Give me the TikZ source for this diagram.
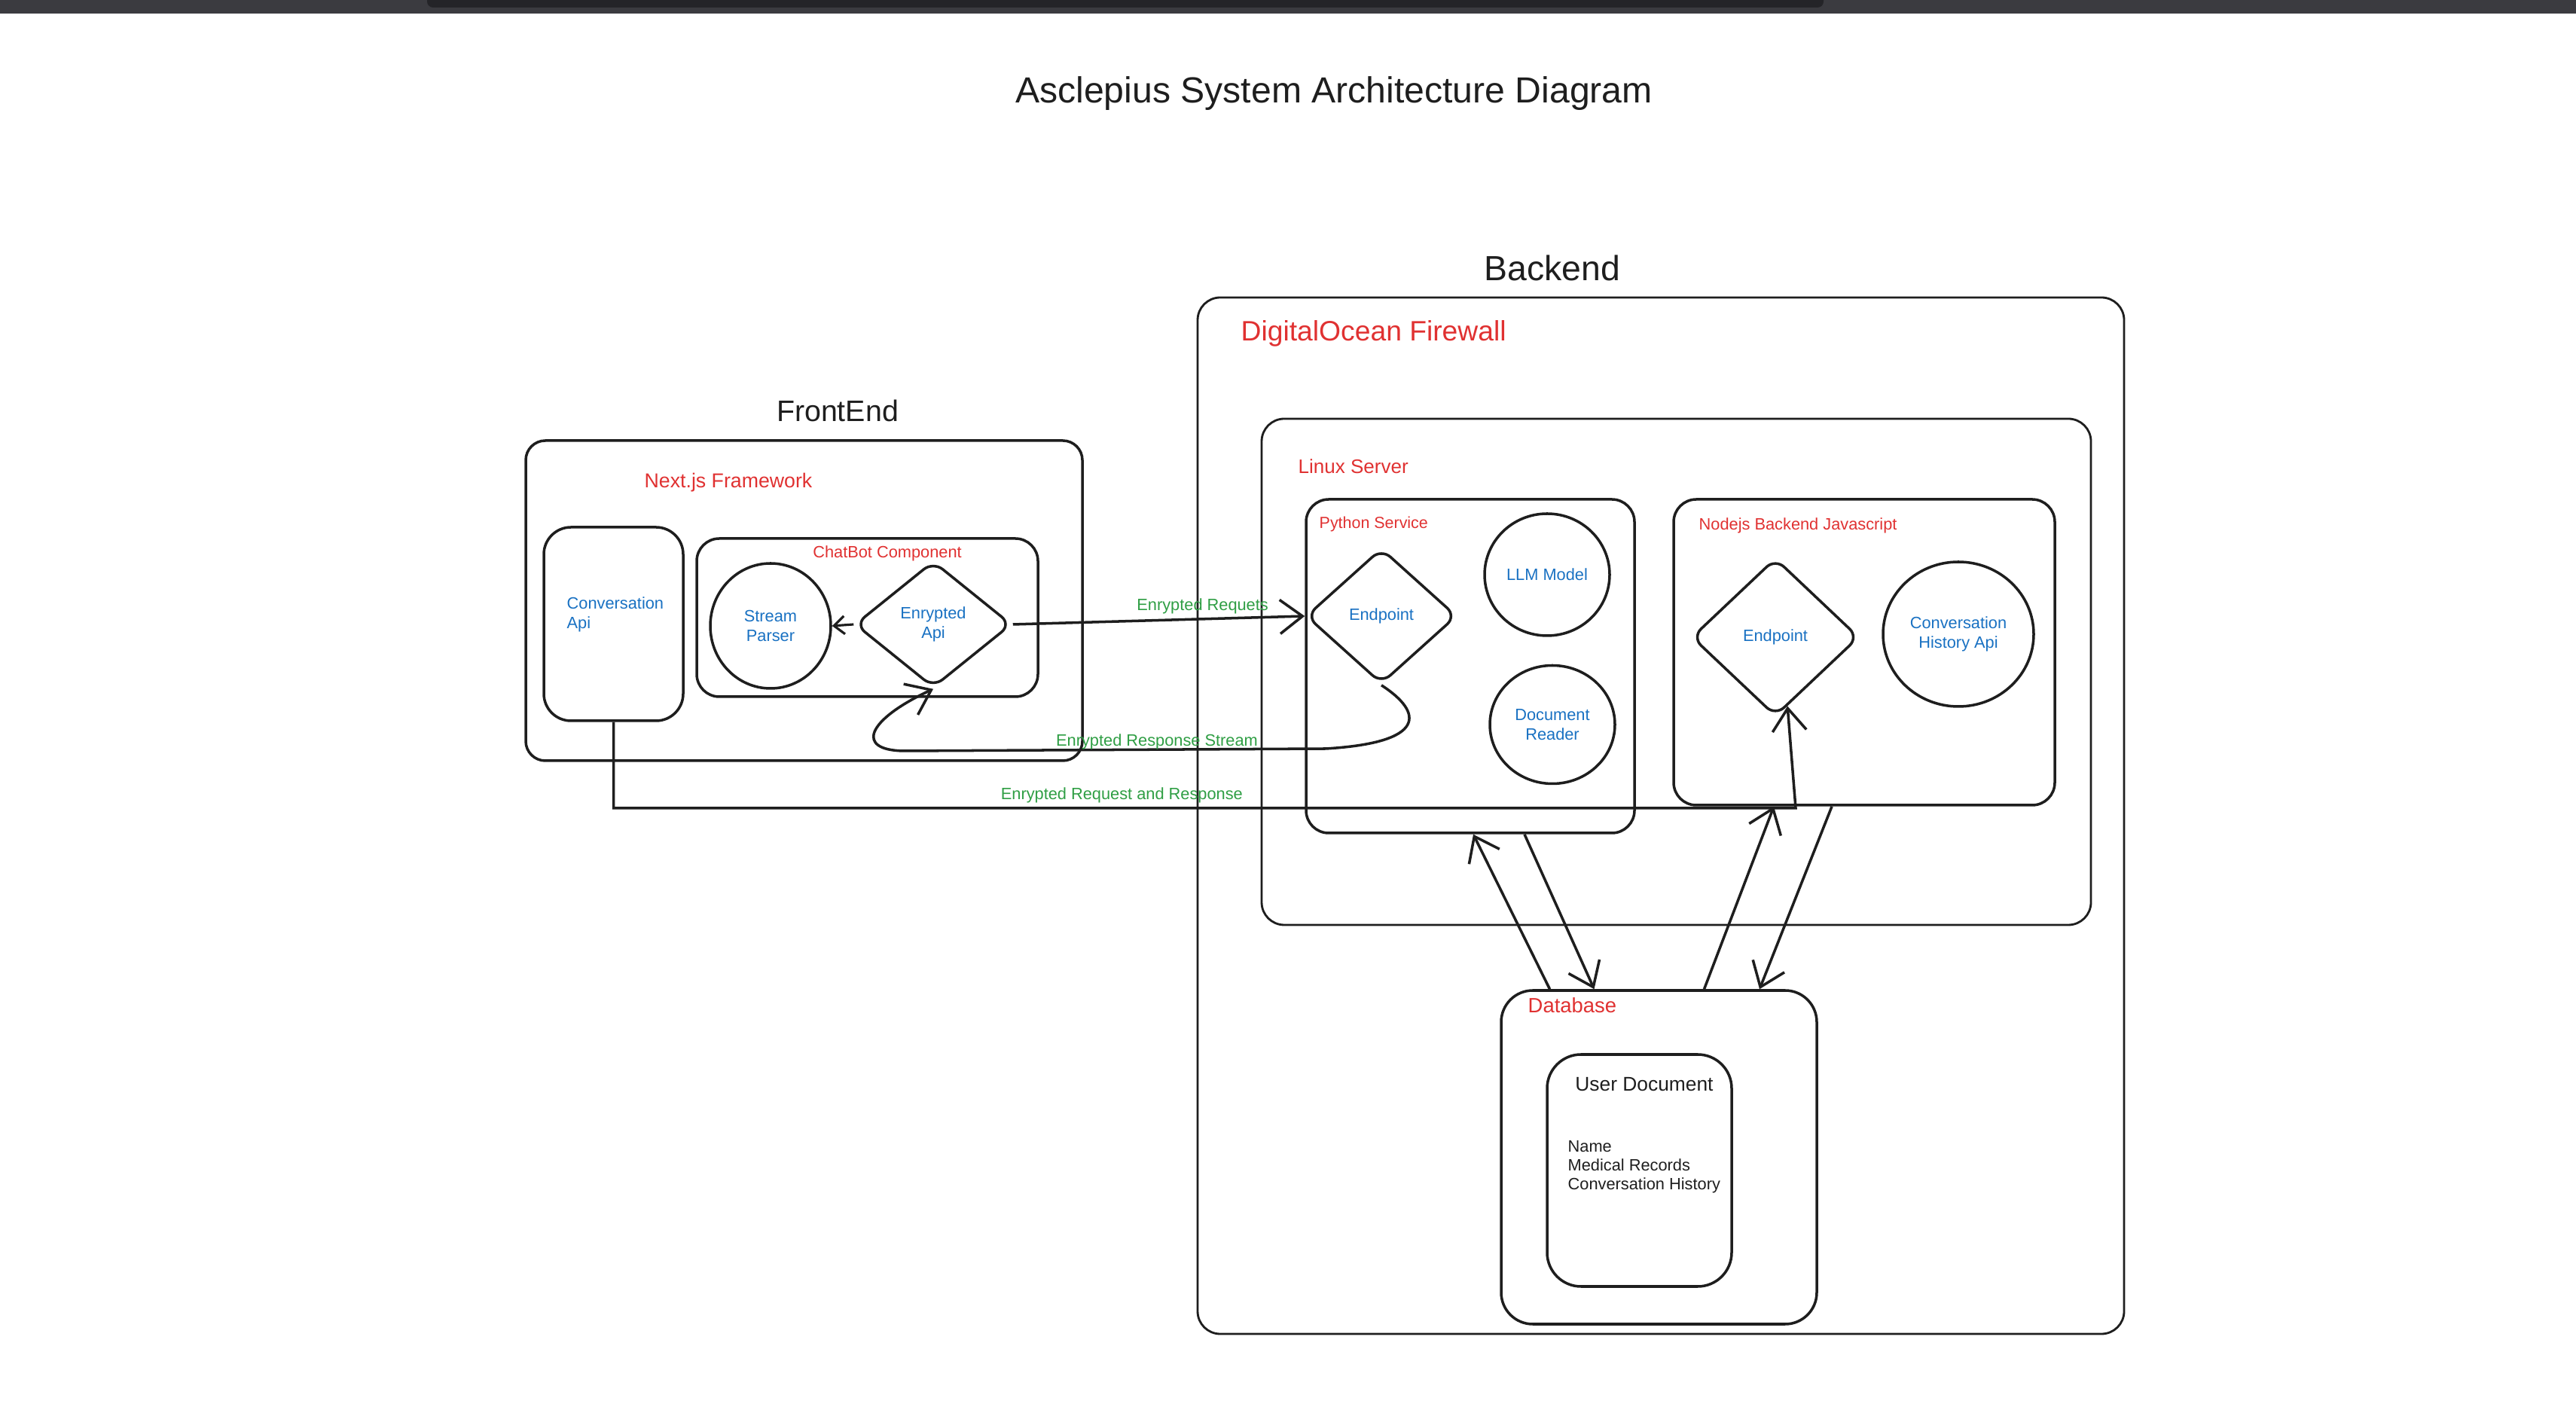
\documentclass[tikz,border=0pt]{standalone}
\usepackage{fontspec}
\setmainfont{Liberation Sans}
\usepackage{xcolor}
\usepackage{tikz}
\usetikzlibrary{positioning,arrows.meta,shapes.geometric}

\definecolor{ink}{HTML}{1E1E1E}
\definecolor{inkred}{HTML}{E03131}
\definecolor{inkblue}{HTML}{1971C2}
\definecolor{inkgreen}{HTML}{2F9E44}
\definecolor{chrome}{HTML}{3B3B40}
\definecolor{chromedark}{HTML}{242428}

\begin{document}
\begin{tikzpicture}[
  box/.style={draw=ink, line width=1pt, rounded corners=2.6mm, inner sep=0pt},
  thinbox/.style={draw=ink, line width=0.8pt, rounded corners=3mm, inner sep=0pt},
  dia/.style={draw=ink, line width=1pt, diamond, rounded corners=1.6mm, inner sep=0pt, align=center, text=inkblue, font={\fontsize{6.2}{7.2}\selectfont}},
  blob/.style={draw=ink, line width=1pt, ellipse, inner sep=0pt, align=center, text=inkblue, font={\fontsize{6.2}{7.2}\selectfont}},
  head/.style={text=ink, inner sep=0pt},
  tag/.style={text=inkred, anchor=west, inner sep=0pt},
  note/.style={text=inkblue, anchor=west, align=left, inner sep=0pt, font={\fontsize{6.2}{7.2}\selectfont}},
  lbl/.style={text=inkgreen, inner sep=1.5pt, font={\fontsize{6.2}{7.2}\selectfont}},
  arr/.style={draw=ink, line width=1pt, -{Straight Barb[length=3mm,width=4.5mm]}},
  sarr/.style={draw=ink, line width=0.9pt, -{Straight Barb[length=1.4mm,width=2.4mm]}}
]
\useasboundingbox (0,0) rectangle (34.2,18.76);
\fill[chrome] (0,18.58) rectangle (34.2,18.76);
\fill[chromedark, rounded corners=0.8mm] (5.67,18.86) -- (5.67,18.66) -- (24.21,18.66) -- (24.21,18.86) -- cycle;

\node[head, font={\fontsize{13.7}{16}\selectfont}] (title) at (17.71, 17.52) {Asclepius System Architecture Diagram};

\node[head, font={\fontsize{11.2}{13}\selectfont}] (frontlbl) at (11.12, 13.31) {FrontEnd};
\node[box, minimum width=7.39cm, minimum height=4.25cm] (frontend) at (10.675, 10.785) {};
\node[tag, font={\fontsize{7.6}{9}\selectfont}] (nextlbl) at (8.55, 12.35) {Next.js Framework};
\node[box, rounded corners=3.6mm, minimum width=1.85cm, minimum height=2.57cm] (convapi) at (8.145, 10.475) {};
\node[note] (convapilbl) at (7.52, 10.60) {Conversation\\Api};
\node[box, rounded corners=3mm, minimum width=4.53cm, minimum height=2.10cm] (chatbot) at (11.515, 10.56) {};
\node[tag, anchor=center, font={\fontsize{6.2}{7.2}\selectfont}] (chatlbl) at (11.78, 11.41) {ChatBot Component};
\node[blob, minimum width=1.6cm, minimum height=1.66cm] (parser) at (10.23, 10.45) {Stream\\Parser};
\node[dia, minimum width=2.08cm, minimum height=1.68cm] (encapi) at (12.39, 10.47) {Enrypted\\Api};

\node[head, font={\fontsize{13.2}{15}\selectfont}] (backlbl) at (20.61, 15.20) {Backend};
\node[thinbox, minimum width=12.30cm, minimum height=13.76cm] (firewall) at (22.05, 7.93) {};
\node[tag, font={\fontsize{10.6}{12}\selectfont}] (firelbl) at (16.47, 14.33) {DigitalOcean Firewall};
\node[thinbox, minimum width=11.01cm, minimum height=6.72cm] (linux) at (22.255, 9.84) {};
\node[tag, font={\fontsize{7.4}{9}\selectfont}] (linuxlbl) at (17.23, 12.57) {Linux Server};

\node[box, rounded corners=3mm, minimum width=4.36cm, minimum height=4.43cm] (python) at (19.52, 9.915) {};
\node[tag, font={\fontsize{6.1}{7.2}\selectfont}] (pylbl) at (17.51, 11.80) {Python Service};
\node[dia, minimum width=2.0cm, minimum height=1.8cm] (pyend) at (18.34, 10.58) {Endpoint};
\node[blob, minimum width=1.66cm, minimum height=1.62cm] (llm) at (20.54, 11.13) {LLM Model};
\node[blob, minimum width=1.66cm, minimum height=1.57cm] (reader) at (20.61, 9.14) {Document\\Reader};

\node[box, rounded corners=3mm, minimum width=5.06cm, minimum height=4.06cm] (nodejs) at (24.75, 10.10) {};
\node[tag, font={\fontsize{6.2}{7.2}\selectfont}] (nodelbl) at (22.55, 11.78) {Nodejs Backend Javascript};
\node[dia, minimum width=2.22cm, minimum height=2.1cm] (nodeend) at (23.57, 10.30) {Endpoint};
\node[blob, minimum width=2.0cm, minimum height=1.92cm] (history) at (26.00, 10.34) {Conversation\\History Api};

\node[box, rounded corners=4.2mm, minimum width=4.19cm, minimum height=4.43cm] (database) at (22.025, 3.395) {};
\node[tag, font={\fontsize{7.8}{9}\selectfont}] (dblbl) at (20.28, 5.41) {Database};
\node[box, rounded corners=4.5mm, minimum width=2.45cm, minimum height=3.08cm] (userdoc) at (21.765, 3.22) {};
\node[head, font={\fontsize{7.5}{9}\selectfont}] (doclbl) at (21.83, 4.36) {User Document};
\node[head, anchor=west, align=left, font={\fontsize{6.2}{7.1}\selectfont}] (fields) at (20.81, 3.27) {Name\\Medical Records\\Conversation History};

\coordinate (rrcorner) at (23.84, 8.03);

\draw[sarr] (encapi.west) -- (parser.east);
\draw[arr] (encapi.east) -- node[lbl, pos=0.65, above] {Enrypted Requets} (pyend.west);
\draw[arr] (pyend.south) .. controls (18.9, 9.3) and (18.95, 8.9) .. (17.6, 8.82)
  -- node[lbl, pos=0.4, above=-2pt] {Enrypted Response Stream} (12.0, 8.79)
  .. controls (11.35, 8.8) and (11.5, 9.2) .. (encapi.south);
\draw[arr] (convapi.south) |- node[lbl, pos=0.715, above] {Enrypted Request and Response} (rrcorner) -- (nodeend.-80);
\draw[arr] ([xshift=-1.45cm]database.north) -- ([xshift=0.04cm]python.south);
\draw[arr] ([xshift=0.72cm]python.south) -- ([xshift=-0.86cm]database.north);
\draw[arr] ([xshift=0.6cm]database.north) -- ([xshift=-1.2cm]nodejs.south);
\draw[arr] ([xshift=-0.43cm]nodejs.south) -- ([xshift=1.335cm]database.north);
\end{tikzpicture}
\end{document}
